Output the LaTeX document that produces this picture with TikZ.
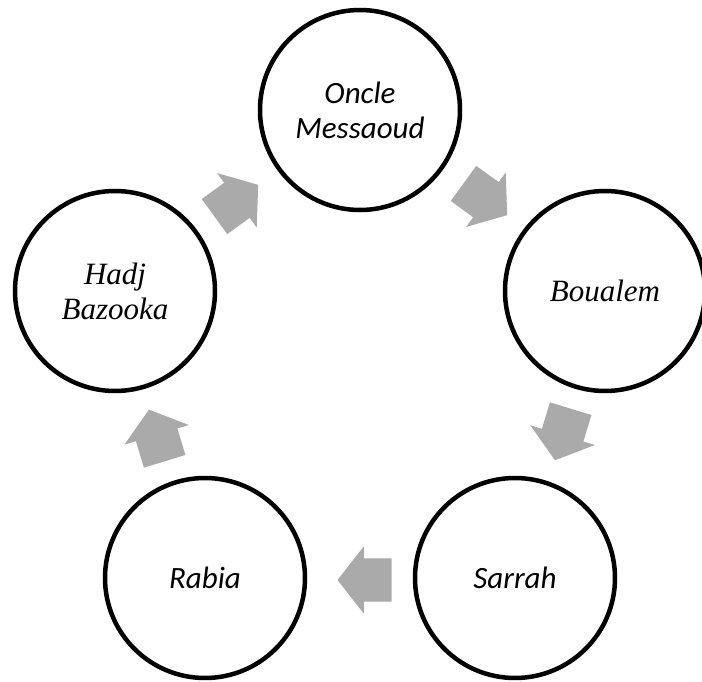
\documentclass[tikz,border=0pt]{standalone}
\usepackage{fontspec}
\newfontfamily\calibrifont{Carlito}
\newfontfamily\timesfont{Liberation Serif}
\usetikzlibrary{shapes.arrows}
\definecolor{arrowgray}{HTML}{AAAAAA}
\tikzset{
  person/.style={circle, draw=black, line width=4.5pt, minimum size=200pt, inner sep=0pt, align=center},
  sansname/.style={person, font=\calibrifont\itshape\fontsize{31}{35}\selectfont},
  serifname/.style={person, font=\timesfont\itshape\fontsize{31}{35}\selectfont},
  cyclearrow/.style={single arrow, fill=arrowgray, draw=none, minimum height=54pt,
    inner xsep=0pt, inner ysep=21.5pt, single arrow head extend=12pt, single arrow tip angle=104}
}
\begin{document}
\begin{tikzpicture}[x=1pt, y=-1pt]
\useasboundingbox (0,0) rectangle (702,682);
% the five people
\node[sansname] (oncle) at (360,110) {Oncle\\Messaoud};
\node[serifname] (boualem) at (605,291) {Boualem};
\node[sansname] (sarrah) at (515,578) {Sarrah};
\node[sansname] (rabia) at (205,578) {Rabia};
\node[serifname] (hadj) at (115,291) {Hadj\\Bazooka};
% block arrows of the cycle
\node[cyclearrow, rotate=-36] (a1) at (478.5,194.3) {};
\node[cyclearrow, rotate=-107] (a2) at (565.3,426.4) {};
\node[cyclearrow, rotate=180] (a3) at (373,580) {};
\node[cyclearrow, rotate=107] (a4) at (159.3,443.6) {};
\node[cyclearrow, rotate=36] (a5) at (229.5,205.7) {};
\end{tikzpicture}
\end{document}
